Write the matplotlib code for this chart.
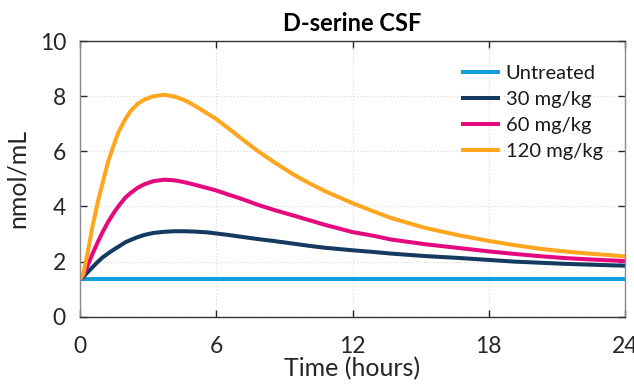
import matplotlib
matplotlib.use("Agg")
import matplotlib.pyplot as plt

plt.rcParams["font.family"] = ["Lato", "DejaVu Sans"]

# sampled CSF concentrations (nmol/mL) vs time (hours)
time_h = [0, 0.15, 0.35, 0.55, 0.8, 1.0, 1.25, 1.5, 1.7, 2.0, 2.25, 2.55, 2.85,
          3.25, 3.7, 4.15, 4.6, 5.0, 5.6, 6.0, 6.5, 7.1, 7.9, 8.6, 9.4, 10.1,
          10.8, 12.0, 12.9, 13.7, 15.2, 16.7, 18.0, 19.1, 20.2, 21.3, 22.4, 24.0]

untreated = [1.35] * len(time_h)
dose_30 = [1.35, 1.45, 1.62, 1.79, 2.00, 2.15, 2.30, 2.44, 2.54, 2.70, 2.79, 2.89,
           2.97, 3.04, 3.08, 3.10, 3.10, 3.09, 3.06, 3.02, 2.97, 2.90, 2.81, 2.74,
           2.65, 2.57, 2.50, 2.41, 2.35, 2.29, 2.20, 2.13, 2.06, 2.00, 1.96, 1.92,
           1.89, 1.85]
dose_60 = [1.35, 1.50, 1.87, 2.27, 2.73, 3.07, 3.45, 3.78, 4.01, 4.32, 4.50, 4.68,
           4.81, 4.92, 4.97, 4.95, 4.88, 4.80, 4.67, 4.58, 4.44, 4.28, 4.04, 3.86,
           3.67, 3.50, 3.33, 3.07, 2.94, 2.80, 2.63, 2.49, 2.37, 2.28, 2.20, 2.13,
           2.08, 2.02]
dose_120 = [1.35, 1.55, 2.35, 3.25, 4.20, 4.85, 5.65, 6.25, 6.70, 7.17, 7.48, 7.73,
            7.88, 8.00, 8.05, 7.99, 7.86, 7.68, 7.38, 7.17, 6.86, 6.47, 5.97, 5.58,
            5.16, 4.84, 4.55, 4.12, 3.83, 3.58, 3.22, 2.95, 2.75, 2.60, 2.47, 2.37,
            2.29, 2.19]

series = [
    ("Untreated", untreated, "#0EA0DC"),
    ("30 mg/kg", dose_30, "#143A60"),
    ("60 mg/kg", dose_60, "#E5097F"),
    ("120 mg/kg", dose_120, "#FFA51E"),
]

x_ticks = [0, 6, 12, 18, 24]
y_ticks = [0, 2, 4, 6, 8, 10]

fig = plt.figure(figsize=(6.34, 3.91), dpi=100)
ax = fig.add_axes([0.126, 0.19, 0.86, 0.705])

for label, vals, color in series:
    ax.plot(time_h, vals, color=color, lw=2.9, label=label,
            solid_capstyle="butt", solid_joinstyle="round")

ax.set_xlim(0, 24)
ax.set_ylim(0, 10)
ax.set_xticks(x_ticks)
ax.set_yticks(y_ticks)
ax.grid(True, color="#d8d8d8", linestyle=(0, (1, 2)), lw=0.8)
ax.set_axisbelow(True)

ax.tick_params(direction="in", length=5, width=1, labelsize=16.5,
               colors="#262626", top=True, right=True)
ax.tick_params(axis="x", pad=14)
ax.tick_params(axis="y", pad=10)
for side in ("bottom", "top"):
    ax.spines[side].set_color("#333333")
for side in ("left", "right"):
    ax.spines[side].set_color("#8a8a8a")
for sp in ax.spines.values():
    sp.set_linewidth(1.0)

ax.set_title("D-serine CSF", fontsize=17, fontweight="bold", pad=7)
ax.set_xlabel("Time (hours)", fontsize=18, color="#262626", labelpad=0)
ax.set_ylabel("nmol/mL", fontsize=18, color="#262626", labelpad=8)

leg = ax.legend(loc="upper right", frameon=False, fontsize=14.5,
                handlelength=1.95, handletextpad=0.26, labelspacing=0.45,
                borderaxespad=0.3, bbox_to_anchor=(0.985, 0.966))
for t in leg.get_texts():
    t.set_color("#1a1a1a")

fig.savefig("out.png", dpi=100)
